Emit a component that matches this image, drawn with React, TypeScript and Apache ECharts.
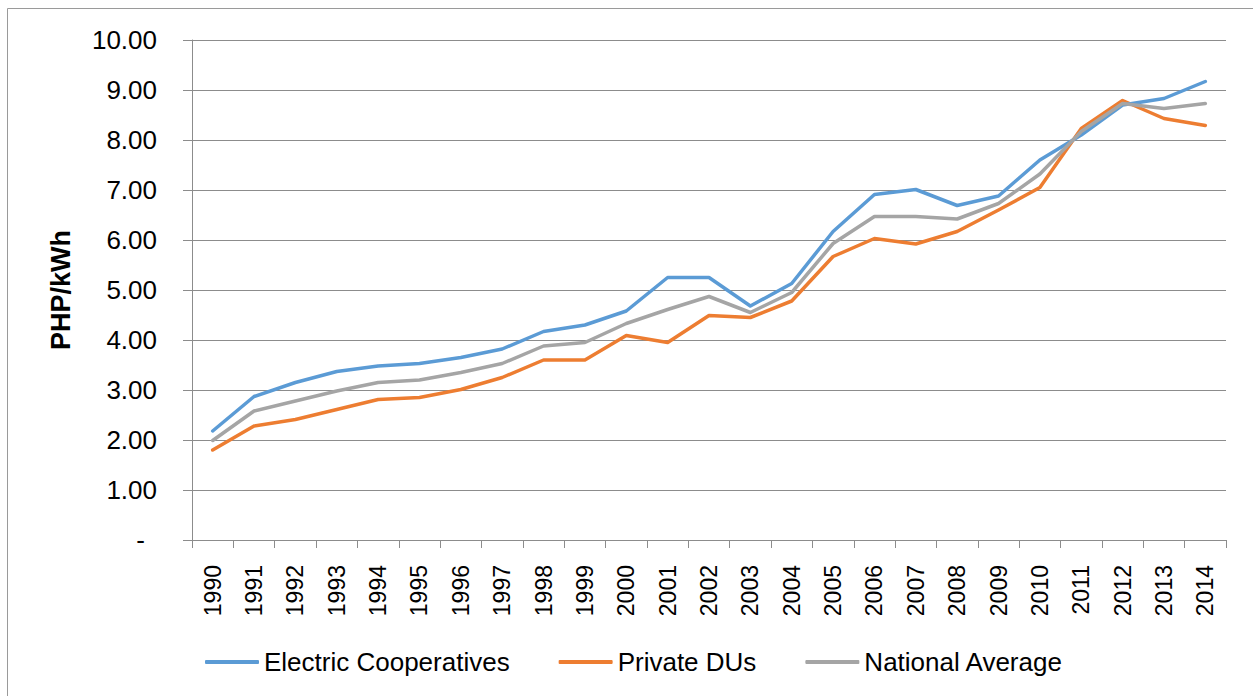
import React, { useEffect, useRef } from "react";
import * as echarts from "echarts";

const years = ["1990","1991","1992","1993","1994","1995","1996","1997","1998","1999","2000","2001","2002","2003","2004","2005","2006","2007","2008","2009","2010","2011","2012","2013","2014"];
const electricCoops = [2.18,2.87,3.15,3.37,3.48,3.53,3.65,3.82,4.17,4.30,4.58,5.25,5.25,4.68,5.13,6.17,6.91,7.01,6.69,6.88,7.60,8.10,8.70,8.83,9.17];
const privateDUs = [1.80,2.28,2.41,2.61,2.81,2.85,3.01,3.25,3.60,3.60,4.09,3.95,4.49,4.45,4.78,5.67,6.03,5.92,6.17,6.60,7.05,8.23,8.79,8.43,8.29];
const nationalAvg = [1.99,2.58,2.78,2.98,3.15,3.20,3.35,3.53,3.88,3.95,4.33,4.61,4.87,4.55,4.95,5.93,6.47,6.47,6.42,6.73,7.32,8.17,8.73,8.63,8.73];
const seriesNames = ["Electric Cooperatives", "Private DUs", "National Average"];
const colors = ["#5B9BD5", "#ED7D31", "#A5A5A5"];

const FONT = "'Liberation Sans', Arial, sans-serif";

export default function App() {
  const ref = useRef<HTMLDivElement>(null);
  useEffect(() => {
    if (!ref.current) return;
    const chart = echarts.init(ref.current, null, { renderer: "svg" });
    const data = [electricCoops, privateDUs, nationalAvg];
    chart.setOption({
      animation: false,
      backgroundColor: "#ffffff",
      graphic: [
        {
          type: "rect",
          shape: { x: 7.5, y: 8.5, width: 1300, height: 700 },
          style: { fill: "none", stroke: "#9a9a9a", lineWidth: 1 },
          silent: true,
        },
      ],
      grid: { left: 192, right: 27, top: 40, bottom: 156, containLabel: false },
      legend: {
        left: 205,
        top: 649,
        padding: 0,
        itemWidth: 54,
        itemHeight: 4,
        itemGap: 49,
        icon: "roundRect",
        textStyle: { fontFamily: FONT, fontSize: 26, color: "#000" },
        data: seriesNames,
      },
      xAxis: {
        type: "category",
        data: years,
        boundaryGap: true,
        axisLine: { show: true, lineStyle: { color: "#8c8c8c", width: 1 } },
        axisTick: { show: true, length: 8, interval: 0, lineStyle: { color: "#8c8c8c" } },
        axisLabel: {
          interval: 0,
          rotate: 90,
          margin: 25,
          fontFamily: FONT,
          fontSize: 23,
          color: "#000",
        },
      },
      yAxis: {
        type: "value",
        min: 0,
        max: 10,
        interval: 1,
        name: "PHP/kWh",
        nameLocation: "middle",
        nameGap: 118,
        nameTextStyle: { fontFamily: FONT, fontSize: 27, fontWeight: "bold", color: "#000" },
        axisLine: { show: true, lineStyle: { color: "#8c8c8c", width: 1 } },
        axisTick: { show: true, length: 9, lineStyle: { color: "#8c8c8c" } },
        splitLine: { show: true, lineStyle: { color: "#8c8c8c", width: 1 } },
        axisLabel: {
          margin: 35,
          fontFamily: FONT,
          fontSize: 26,
          color: "#000",
          formatter: (v: number) => (v === 0 ? "{d|-}" : v.toFixed(2)),
          rich: { d: { fontFamily: FONT, fontSize: 26, color: "#000", padding: [0, 12, 0, 0] } },
        },
      },
      series: seriesNames.map((name, i) => ({
        name,
        type: "line",
        data: data[i],
        symbol: "none",
        showSymbol: false,
        lineStyle: { color: colors[i], width: 3.5, cap: "round", join: "round" },
        itemStyle: { color: colors[i] },
        z: i === 0 ? 3 : i === 1 ? 2 : 4,
      })),
    });
    return () => chart.dispose();
  }, []);
  return (
    <div
      ref={ref}
      style={{ position: "fixed", left: 0, top: 0, width: 1253, height: 696, background: "#fff" }}
    />
  );
}
